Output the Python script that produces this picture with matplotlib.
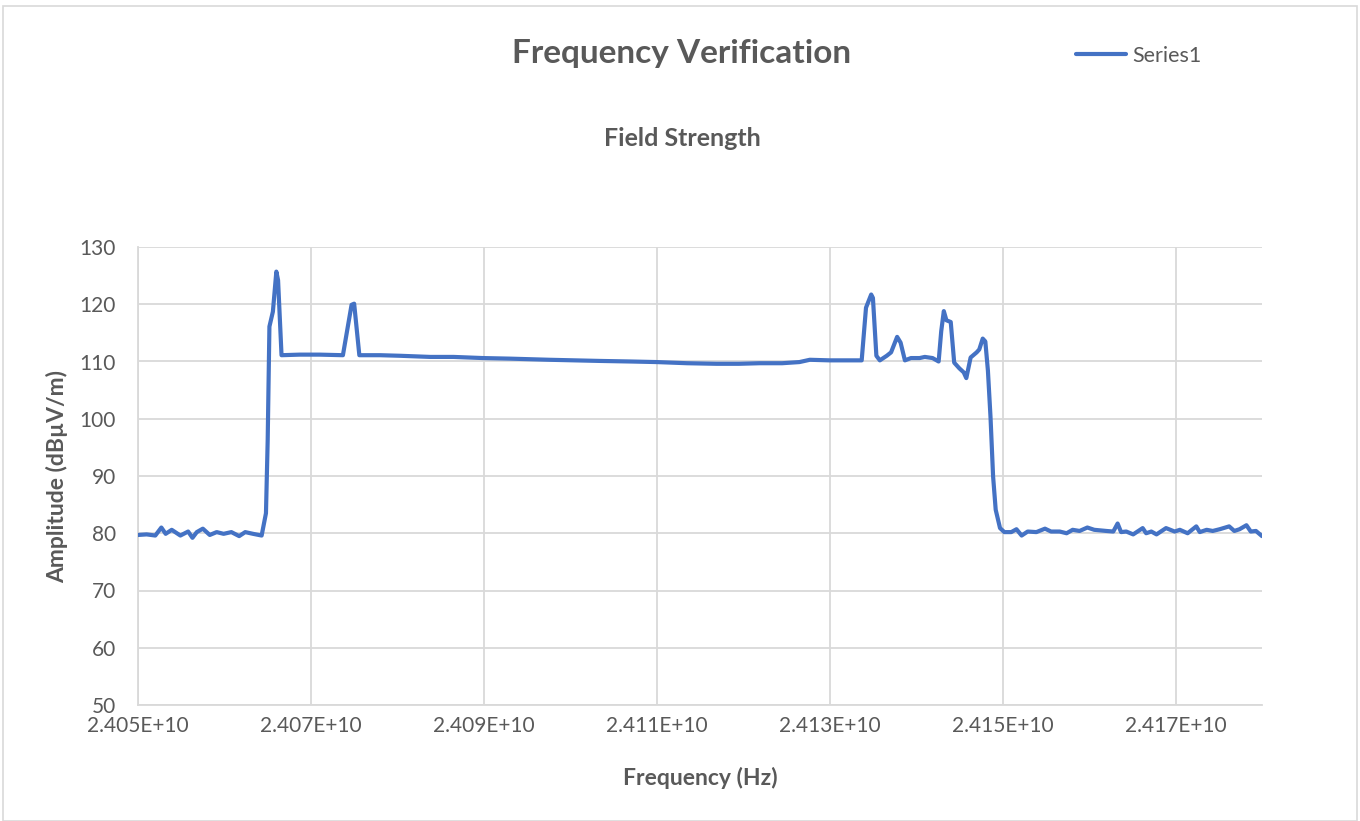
import matplotlib.pyplot as plt
import numpy as np
from matplotlib.ticker import FuncFormatter, FixedLocator, MultipleLocator
from matplotlib.patches import Rectangle

# frequency in MHz, amplitude in dBuV/m
freq_mhz = [
    24050.0, 24051.0, 24052.0, 24052.7, 24053.2, 24053.9, 24054.9, 24055.8, 24056.3,
    24056.8, 24057.5, 24058.3, 24059.1, 24059.9, 24060.8, 24061.7, 24062.4,
    24063.3, 24064.3, 24064.8, 24065.0, 24065.2, 24065.6, 24066.0, 24066.2,
    24066.6, 24068.7, 24071.0, 24073.7, 24074.7, 24075.0, 24075.6, 24078.0,
    24080.3, 24083.8, 24086.5, 24089.9, 24093.0, 24097.6, 24100.5, 24103.4,
    24107.0, 24110.0, 24113.5, 24116.9, 24119.5, 24121.9, 24124.5, 24126.5,
    24127.7, 24130.0, 24131.8, 24133.7, 24134.2, 24134.8, 24135.0, 24135.4,
    24135.8, 24136.6, 24137.1, 24137.8, 24138.2, 24138.7, 24139.4, 24140.4,
    24141.0, 24141.9, 24142.6, 24142.9, 24143.2, 24143.5, 24144.0, 24144.4,
    24145.0, 24145.5, 24145.8, 24146.3, 24147.0, 24147.3, 24147.7, 24148.0,
    24148.3, 24148.6, 24148.9, 24149.2, 24149.7, 24150.2, 24151.0, 24151.6,
    24152.2, 24152.9, 24153.9, 24154.9, 24155.6, 24156.6, 24157.4, 24158.1,
    24158.9, 24159.8, 24160.6, 24162.0, 24162.8, 24163.3, 24163.7, 24164.3,
    24165.1, 24166.2, 24166.6, 24167.2, 24167.8, 24168.9, 24169.9, 24170.5,
    24171.4, 24172.4, 24172.8, 24173.6, 24174.3, 24175.1, 24176.2, 24176.8,
    24177.4, 24178.2, 24178.7, 24179.3, 24180.0,
]
amplitude = [
    79.7, 79.8, 79.6, 81.0, 79.9, 80.6, 79.6, 80.3, 79.2,
    80.2, 80.8, 79.7, 80.2, 79.9, 80.2, 79.5, 80.2,
    79.9, 79.6, 83.5, 96.3, 116.1, 118.7, 125.7, 124.2,
    111.1, 111.2, 111.2, 111.1, 119.9, 120.1, 111.1, 111.1,
    111.0, 110.8, 110.8, 110.6, 110.5, 110.3, 110.2, 110.1,
    110.0, 109.9, 109.7, 109.6, 109.6, 109.7, 109.7, 109.9,
    110.3, 110.2, 110.2, 110.2, 119.4, 121.7, 121.1, 111.0,
    110.2, 111.0, 111.6, 114.3, 113.3, 110.2, 110.6, 110.6,
    110.8, 110.6, 110.0, 115.3, 118.8, 117.2, 116.9, 109.8,
    108.8, 108.1, 107.1, 110.7, 111.6, 112.1, 114.0, 113.5,
    108.4, 100.3, 89.9, 84.1, 80.9, 80.2, 80.2, 80.7,
    79.6, 80.3, 80.2, 80.8, 80.3, 80.3, 80.0, 80.6,
    80.4, 81.0, 80.6, 80.4, 80.3, 81.7, 80.2, 80.3,
    79.8, 80.9, 80.0, 80.3, 79.8, 80.9, 80.3, 80.6,
    80.0, 81.2, 80.2, 80.6, 80.4, 80.7, 81.2, 80.4,
    80.7, 81.4, 80.3, 80.4, 79.5,
]
x_ticks_hz = [2.405e10, 2.407e10, 2.409e10, 2.411e10, 2.413e10, 2.415e10, 2.417e10]

plt.rcParams['font.family'] = ['Lato', 'DejaVu Sans']
grey = '#595959'

fig = plt.figure(figsize=(13.6, 8.21), dpi=100)
ax = fig.add_axes([138 / 1360, 1 - 705 / 821, (1262 - 138) / 1360, (705 - 247) / 821])

freq_hz = np.array(freq_mhz) * 1e6
ax.plot(freq_hz, amplitude, color='#4472C4', lw=3.0, label='Series1',
        solid_joinstyle='round', solid_capstyle='round', zorder=3)

ax.set_xlim(2.405e10, 2.418e10)
ax.set_ylim(50, 130)
ax.xaxis.set_major_locator(FixedLocator(x_ticks_hz))
ax.yaxis.set_major_locator(MultipleLocator(10))
ax.xaxis.set_major_formatter(FuncFormatter(lambda v, p: f"{v:.3E}"))
ax.grid(True, color='#d9d9d9', lw=1.3)
ax.set_axisbelow(True)
for s in ['top', 'right']:
    ax.spines[s].set_visible(False)
for s in ['left', 'bottom']:
    ax.spines[s].set_color('#d9d9d9')
    ax.spines[s].set_linewidth(1.3)
ax.tick_params(length=0, labelsize=15, colors=grey)
ax.tick_params(axis='y', pad=16)
ax.tick_params(axis='x', pad=8)

ax.set_xlabel('Frequency (Hz)', fontsize=16.5, fontweight='bold', color=grey, labelpad=22)
ax.set_ylabel('Amplitude (dBµV/m)', fontsize=16.5, fontweight='bold', color=grey, labelpad=8)

fig.text(682 / 1360, 1 - 54 / 821, 'Frequency Verification', ha='center', va='center',
         fontsize=24, fontweight='bold', color=grey)
fig.text(682 / 1360, 1 - 139 / 821, 'Field Strength', ha='center', va='center',
         fontsize=18, fontweight='bold', color=grey)

fig.legend(loc='center left', bbox_to_anchor=(1057 / 1360, 1 - 56 / 821), frameon=False,
           fontsize=15.5, labelcolor=grey, handlelength=2.3, handletextpad=0.3)

fig.patches.append(Rectangle((3 / 1360, 0), 1354 / 1360, 1 - 6 / 821, transform=fig.transFigure,
                             fill=False, edgecolor='#d9d9d9', lw=1.2))

fig.savefig('out.png', dpi=100)
